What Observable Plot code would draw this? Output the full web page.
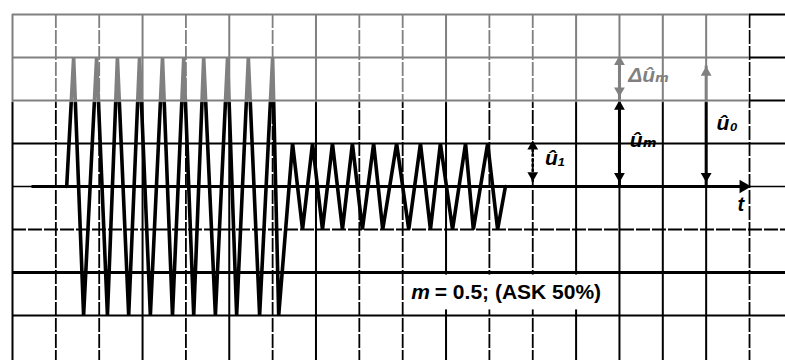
<!DOCTYPE html>
<html><head><meta charset="utf-8">
<script src="https://cdn.jsdelivr.net/npm/d3@7"></script>
<script src="https://cdn.jsdelivr.net/npm/@observablehq/plot@0.6"></script>
<style>body{margin:0;background:#fff}</style>
</head><body><div id="chart"></div>
<script>
// grid (units = grid cells)
const gridSolidX = [0, 3, 5, 7, 10, 13, 14, 15, 16];
const gridDashedX = [1, 2, 4, 6, 8, 9, 11, 12, 17];
const gridSolidY = [4, 3, 2, 1, -2, -3];
const gridDashedY = [-1];

// ASK signal
const startT = 1.25, endT = 11.37;
const largeAmp = 3, smallAmp = 1;
const largePeakT   = [1.41, 1.94, 2.42, 2.93, 3.46, 3.95, 4.41, 4.96, 5.44, 6.00];
const largeTroughT = [1.64, 2.19, 2.68, 3.18, 3.69, 4.18, 4.68, 5.17, 5.70, 6.14];
const smallPeakT   = [6.46, 6.92, 7.38, 7.84, 8.33, 8.86, 9.41, 9.87, 10.45, 10.96];
const smallTroughT = [6.69, 7.15, 7.61, 8.07, 8.54, 9.14, 9.64, 10.15, 10.63, 11.19];

// annotations
const arrowStems = [
  {x: 14, y1: 0, y2: 2, dashed: false},
  {x: 14, y1: 2, y2: 3, dashed: false},
  {x: 16, y1: 0, y2: 2.8, dashed: false},
  {x: 12, y1: 0.1, y2: 0.95, dashed: true}
];
const arrowHeads = [
  {x: 14, y: 2.9, rot: 0}, {x: 14, y: 2.23, rot: 180},
  {x: 14, y: 1.86, rot: 0}, {x: 14, y: 0.24, rot: 180},
  {x: 16, y: 2.65, rot: 0}, {x: 16, y: 0.24, rot: 180},
  {x: 12, y: 0.93, rot: 0}, {x: 12, y: 0.26, rot: 180}
];
const labels = [
  {x: 14.2, y: 2.58, text: "Δûₘ"},
  {x: 14.24, y: 1.08, text: "ûₘ"},
  {x: 16.24, y: 1.47, text: "û₀"},
  {x: 12.28, y: 0.66, text: "û₁"}
];
const timeLabel = [{x: 16.72, y: -0.42, text: "t"}];
const axisArrow = [{x: 16.86, y: 0}];
const noteBox = [{x1: 9.05, x2: 13.55, y1: -2.06, y2: -2.87}];
const noteM = [{x: 9.2, y: -2.47, text: "m"}];
const noteRest = [{x: 9.74, y: -2.47, text: "= 0.5; (ASK 50%)"}];
const fadeRegion = [{x1: -0.3, x2: 17, y1: 1.95, y2: 4.3}];

const wave = [{t: startT, v: 0}];
largePeakT.forEach((t, i) => { wave.push({t, v: largeAmp}); wave.push({t: largeTroughT[i], v: -largeAmp}); });
smallPeakT.forEach((t, i) => { wave.push({t, v: smallAmp}); wave.push({t: smallTroughT[i], v: -smallAmp}); });
wave.push({t: endT, v: 0});

const font = "'Liberation Sans', Arial, 'DejaVu Sans', sans-serif";

const chart = Plot.plot({
  width: 785, height: 360,
  marginLeft: 12, marginRight: 0, marginTop: 14, marginBottom: 2,
  x: {domain: [0, 17.83], axis: null},
  y: {domain: [-4, 4], axis: null},
  style: {fontFamily: font, background: "white"},
  marks: [
    Plot.ruleX(gridSolidX, {x: d => d, y1: 4, y2: -4.1, stroke: "black", strokeWidth: 2}),
    Plot.ruleX(gridDashedX, {x: d => d, y1: 4, y2: -4.1, stroke: "black", strokeWidth: 1.8, strokeDasharray: "14,2"}),
    Plot.ruleY(gridSolidY, {y: d => d, x1: 0, x2: 17.83, stroke: "black", strokeWidth: d => d === -2 ? 2.8 : 2}),
    Plot.ruleY(gridDashedY, {y: d => d, x1: 0, x2: 17.83, stroke: "black", strokeWidth: 1.8, strokeDasharray: "14,2"}),
    Plot.ruleY([0], {x1: 0, x2: 17.83, stroke: "black", strokeWidth: 1.6}),
    Plot.rect(noteBox, {x1: "x1", x2: "x2", y1: "y1", y2: "y2", fill: "white"}),
    Plot.text(noteM, {x: "x", y: "y", text: "text", textAnchor: "start", fontSize: 21, fontWeight: "bold", fontStyle: "italic", fill: "black"}),
    Plot.text(noteRest, {x: "x", y: "y", text: "text", textAnchor: "start", fontSize: 21, fontWeight: "bold", fill: "black"}),
    Plot.ruleY([0], {x1: 0.45, x2: 16.9, stroke: "black", strokeWidth: 3}),
    Plot.line(wave, {x: "t", y: "v", stroke: "black", strokeWidth: 3.6, strokeLinejoin: "miter", strokeMiterlimit: 3}),
    Plot.ruleX(arrowStems.filter(d => !d.dashed), {x: "x", y1: "y1", y2: "y2", stroke: "black", strokeWidth: 3}),
    Plot.ruleX(arrowStems.filter(d => d.dashed), {x: "x", y1: "y1", y2: "y2", stroke: "black", strokeWidth: 2.5, strokeDasharray: "3,2"}),
    Plot.dot(arrowHeads, {x: "x", y: "y", symbol: "triangle", rotate: "rot", r: 4, fill: "black", stroke: "none"}),
    Plot.dot(axisArrow, {x: "x", y: "y", symbol: "triangle", rotate: 90, r: 5, fill: "black", stroke: "none"}),
    Plot.text(labels, {x: "x", y: "y", text: "text", textAnchor: "start", fontSize: 21, fontWeight: "bold", fontStyle: "italic", fill: "black"}),
    Plot.text(timeLabel, {x: "x", y: "y", text: "text", textAnchor: "start", fontSize: 20, fontWeight: "bold", fontStyle: "italic", fill: "black"}),
    Plot.rect(fadeRegion, {x1: "x1", x2: "x2", y1: "y1", y2: "y2", fill: "white", fillOpacity: 0.5})
  ]
});
document.getElementById("chart").append(chart);
</script>
</body></html>
